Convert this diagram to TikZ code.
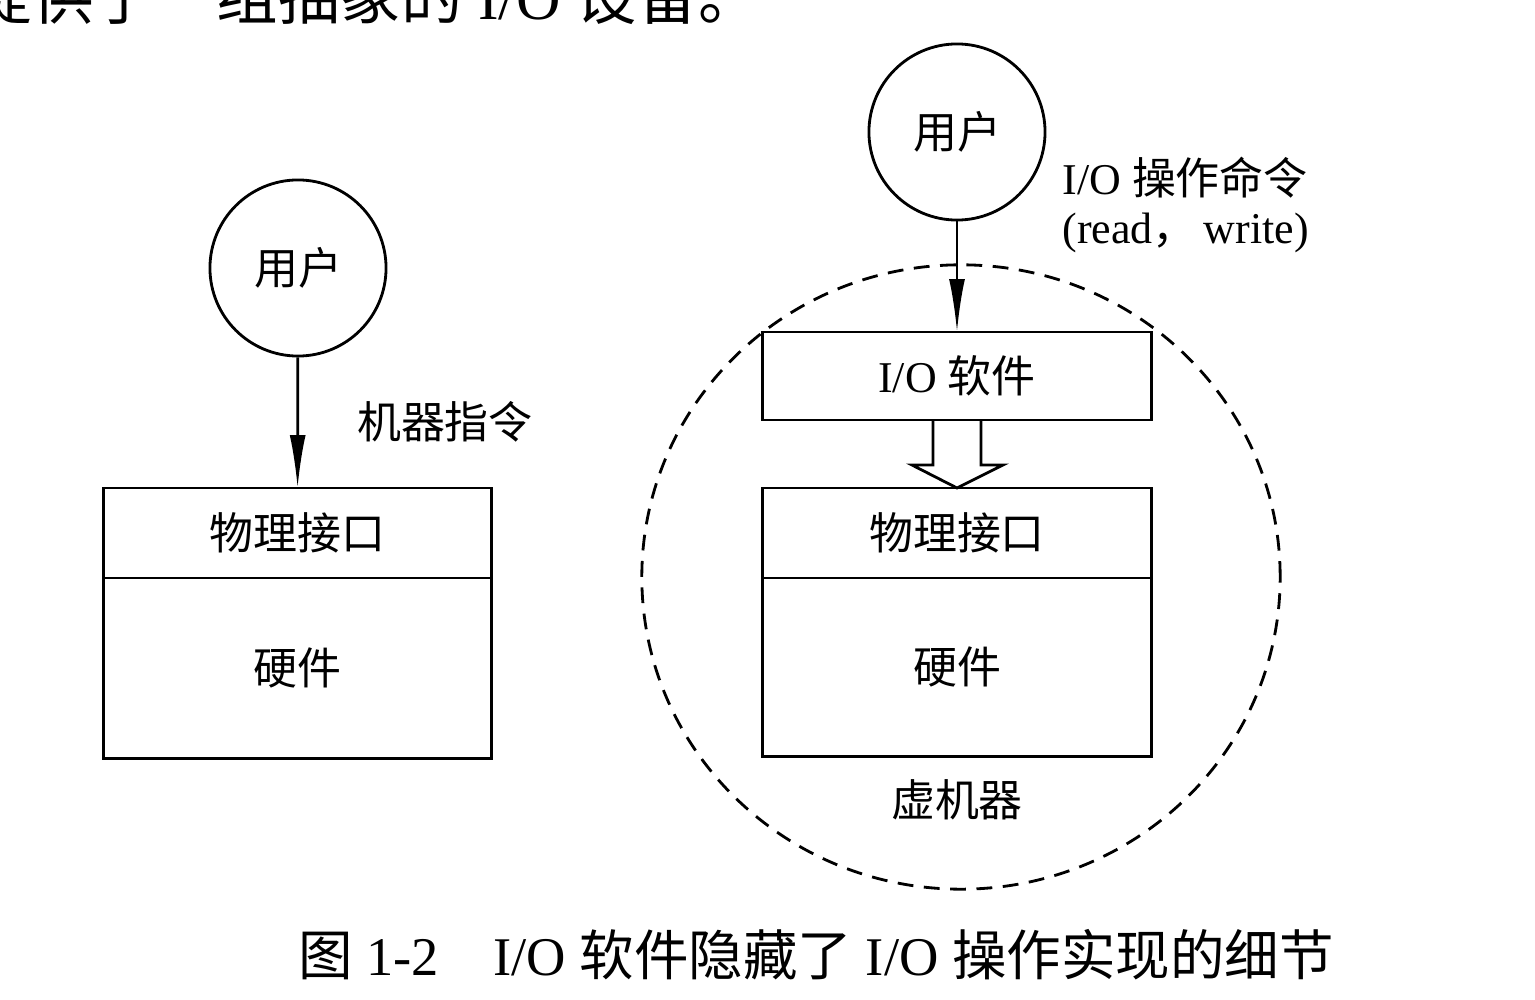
\documentclass[tikz,border=0pt]{standalone}
\usepackage{fontspec}
\setmainfont{Liberation Serif}
\newfontfamily\cjk{Noto Sans CJK SC}
\usepackage{tikz}
\usetikzlibrary{arrows.meta}
\usetikzlibrary{calc,positioning}
\tikzset{
    userball/.style={
        circle,
        draw,
        line width=0.8pt,
        minimum size=1.76cm,
        inner sep=0pt,
        font=\cjk\fontsize{12.5}{15}\selectfont
    },
    % boxes of the two stacks
    layerbox/.style={
        rectangle,
        draw,
        line width=0.8pt,
        outer sep=0pt,
        minimum width=3.88cm,
        font=\fontsize{12.5}{15}\selectfont
    },
    downarrow/.style={
        line width=0.8pt,
        black,
        -{Latex[length=15pt, width=4.5pt]}
    },
    txt/.style={font=\fontsize{12.5}{15}\selectfont}
}

\begin{document}
\begin{tikzpicture}[x=0.01cm,y=-0.01cm]
	\clip (0,0) rectangle (1535,1000);
	
	% cut-off line of the page above
	\node[anchor=west,inner sep=0pt,font=\cjk\fontsize{17.5}{20}\selectfont] (topline) at (-30,-4)
	{提供了一组抽象的{\rmfamily\ I/O }设备。};
	
	% left: no I/O software
	\node[userball] (user1) at (298,268) {用户};
	\node[layerbox,minimum height=0.9cm] (iface1) at (297.5,533) {\cjk 物理接口};
	\node[layerbox,minimum height=1.8cm,below=0pt of iface1] (hw1) {\cjk 硬件};
	\draw[downarrow] (user1) -- (iface1);
	\node[txt] (instr) at (445,422) {\cjk 机器指令};
	
	% right: with I/O software
	\node[userball] (user2) at (957,132) {用户};
	\node[layerbox,minimum height=0.88cm] (iosw) at (957,376) {I/O {\cjk 软件}};
	\node[layerbox,minimum height=0.9cm] (iface2) at (957,533) {\cjk 物理接口};
	\node[layerbox,minimum height=1.78cm,below=0pt of iface2] (hw2) {\cjk 硬件};
	\draw[downarrow] (user2) -- (iosw);
	\node[txt,anchor=west] (cmd1) at (1050,178) {I/O {\cjk 操作命令}};
	\node[txt,anchor=west] (cmd2) at (1050,233) {(read{\cjk ，}\,write)};
	
	% hollow arrow
	\draw[line width=0.8pt]
	($(iosw.south)+(-24,0)$) -- ++(0,45) -- ++(-21,0)
	-- (iface2.north)
	-- ($(iosw.south)+(46,45)$) -- ++(-22,0) -- ($(iosw.south)+(24,0)$);
	
	% virtual machine
	\draw[line width=0.8pt,dash pattern=on 4.5pt off 3pt]
	(961,577) ellipse [x radius=3.19cm, y radius=3.12cm];
	\node[txt] (vm) at (957,800) {\cjk 虚机器};
	
	% caption
	\node[font=\fontsize{15.5}{18}\selectfont] (cap) at (816,955)
	{{\cjk 图} 1-2\quad I/O {\cjk 软件隐藏了} I/O {\cjk 操作实现的细节}};
\end{tikzpicture}
\end{document}
